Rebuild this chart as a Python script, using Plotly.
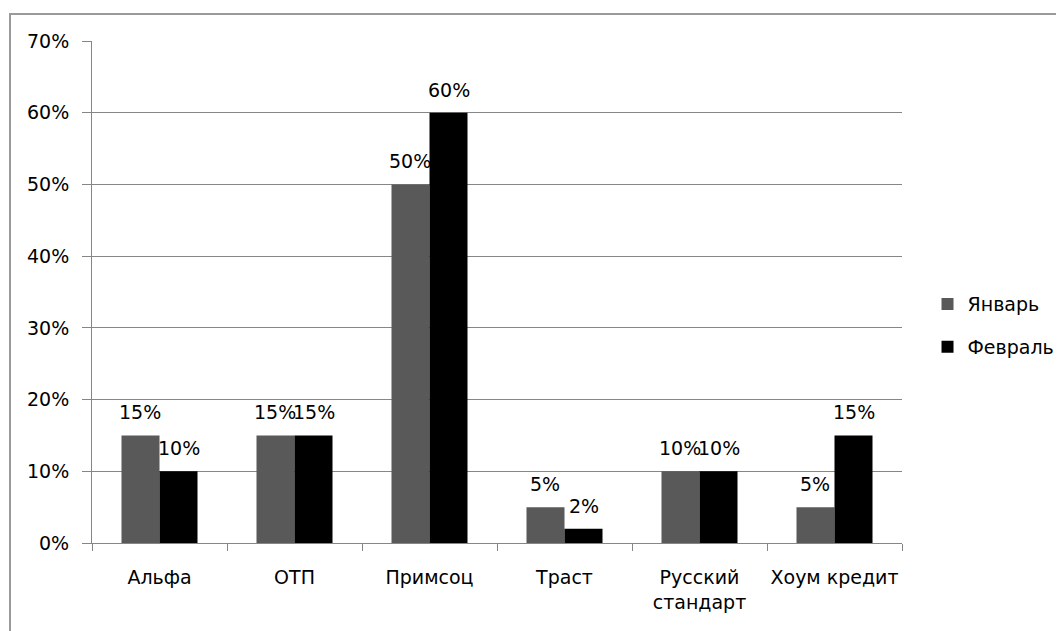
import plotly.graph_objects as go

categories = ["Альфа", "ОТП", "Примсоц", "Траст", "Русский<br>стандарт", "Хоум кредит"]
january = [0.15, 0.15, 0.50, 0.05, 0.10, 0.05]
february = [0.10, 0.15, 0.60, 0.02, 0.10, 0.15]
series_names = ["Январь", "Февраль"]
y_ticks = [0, 0.1, 0.2, 0.3, 0.4, 0.5, 0.6, 0.7]

# page body has an 8px margin, figure is offset by (8, 8)
W, H = 1064, 631
ML, MR, MT, MB = 84, 170, 33, 96
BARGAP = 0.437
FONT = "DejaVu Sans"
FS = 19
TXT = "#000000"

fig = go.Figure()
fig.add_trace(go.Bar(x=categories, y=january, name=series_names[0],
                     marker=dict(color="#595959", line=dict(width=0)),
                     legendgroup="a"))
fig.add_trace(go.Bar(x=categories, y=february, name=series_names[1],
                     marker=dict(color="#000000", line=dict(width=0)),
                     legendgroup="b"))

plot_w = W - ML - MR
plot_h = H - MT - MB
cat_px = plot_w / len(categories)
shift = cat_px * (1 - BARGAP) / 4
for vals, sx in ((january, -shift), (february, shift)):
    for c, v in zip(categories, vals):
        fig.add_annotation(x=c, y=v, xref="x", yref="y", text=f"{round(v*100)}%",
                           showarrow=False, yanchor="bottom", xanchor="center",
                           xshift=sx, yshift=10,
                           font=dict(family=FONT, size=FS, color=TXT))

# outer chart border
fig.add_shape(type="rect", xref="paper", yref="paper",
              x0=(2 - ML) / plot_w, x1=1.3,
              y0=-0.3, y1=1 + (MT - 6) / plot_h,
              line=dict(color="#9a9a9a", width=2), layer="below")

fig.update_layout(
    width=W, height=H,
    margin=dict(l=ML, r=MR, t=MT, b=MB, autoexpand=False),
    paper_bgcolor="white", plot_bgcolor="white",
    barmode="group", bargap=BARGAP, bargroupgap=0,
    font=dict(family=FONT, size=FS, color=TXT),
    legend=dict(x=1.0315, y=0.433, xanchor="left", yanchor="middle",
                font=dict(family=FONT, size=FS, color=TXT),
                tracegroupgap=15, itemwidth=30,
                bgcolor="rgba(0,0,0,0)"),
    showlegend=True,
)
fig.update_xaxes(
    showline=True, linecolor="#868686", linewidth=1,
    ticks="outside", tickson="boundaries", ticklen=7, tickcolor="#868686",
    showgrid=False, ticklabelstandoff=17, tickangle=0,
    tickfont=dict(family=FONT, size=FS, color=TXT),
)
fig.update_yaxes(
    range=[0, 0.7], tickvals=y_ticks, tickformat=".0%",
    showline=True, linecolor="#868686", linewidth=1,
    ticks="outside", ticklen=9, tickcolor="#868686",
    showgrid=True, gridcolor="#868686", gridwidth=1,
    zeroline=False, ticklabelstandoff=9,
    tickfont=dict(family=FONT, size=FS, color=TXT),
)

fig.write_html("out.html")
